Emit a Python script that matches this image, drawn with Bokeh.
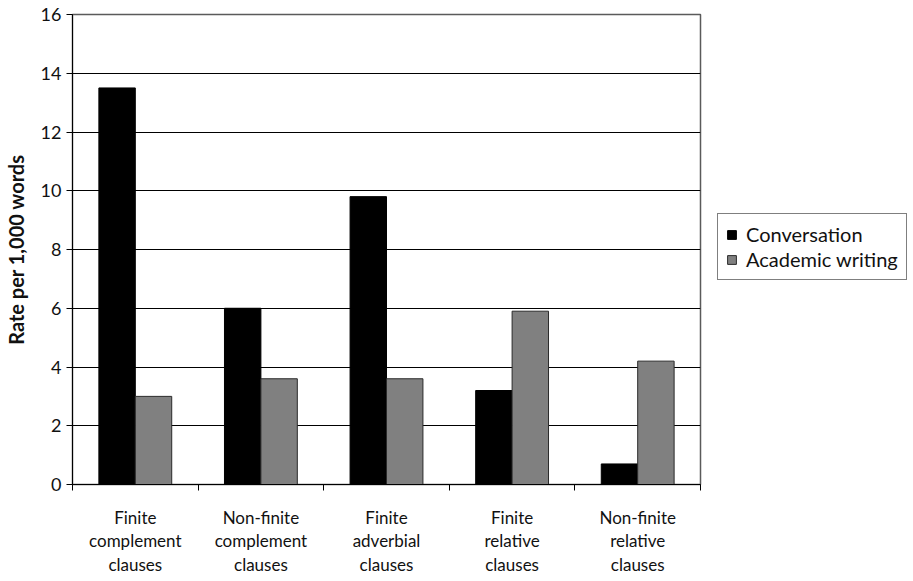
from bokeh.plotting import figure
from bokeh.models import (ColumnDataSource, FixedTicker, Legend, LegendItem,
                          Range1d)
from bokeh.transform import dodge
from bokeh.embed import file_html
from bokeh.resources import INLINE

# Clause types and their rates per 1,000 words in two registers
categories = [
    "Finite\ncomplement\nclauses",
    "Non-finite\ncomplement\nclauses",
    "Finite\nadverbial\nclauses",
    "Finite\nrelative\nclauses",
    "Non-finite\nrelative\nclauses",
]
conversation = [13.5, 6.0, 9.8, 3.2, 0.7]
academic_writing = [3.0, 3.6, 3.6, 5.9, 4.2]
y_ticks = [0, 2, 4, 6, 8, 10, 12, 14, 16]

FONT = "Lato"

centers = [i + 0.5 for i in range(len(categories))]
source = ColumnDataSource(dict(x=centers, conv=conversation, acad=academic_writing))

p = figure(
    frame_width=628, frame_height=470,
    x_range=Range1d(0, len(categories)), y_range=Range1d(0, 16),
    output_backend="svg", toolbar_location=None,
    min_border_left=72, min_border_right=0, min_border_top=14, min_border_bottom=97,
)
p.background_fill_color = "white"
p.border_fill_color = "white"
p.outline_line_color = "#5a5a5a"
p.outline_line_width = 1.5

bar_w = 0.29
r_conv = p.vbar(x=dodge("x", -bar_w / 2), top="conv", width=bar_w, source=source,
                fill_color="black", line_color="black", line_width=1)
r_acad = p.vbar(x=dodge("x", bar_w / 2), top="acad", width=bar_w, source=source,
                fill_color="#808080", line_color="#2a2a2a", line_width=1)

# x axis: labels at group centres, tick marks at group boundaries
p.xaxis.ticker = FixedTicker(ticks=centers, minor_ticks=list(range(len(categories) + 1)))
p.xaxis.major_label_overrides = {c: lab for c, lab in zip(centers, categories)}
p.xaxis.major_tick_out = 0
p.xaxis.major_tick_in = 0
p.xaxis.minor_tick_out = 6
p.xaxis.minor_tick_in = 0
p.xaxis.minor_tick_line_color = "black"
p.xaxis.axis_line_color = "black"
p.xaxis.major_label_text_font = FONT
p.xaxis.major_label_text_font_size = "17px"
p.xaxis.major_label_text_color = "#111111"
p.xaxis.major_label_text_line_height = 1.12
p.xaxis.major_label_standoff = 16

# y axis
p.yaxis.ticker = FixedTicker(ticks=y_ticks, minor_ticks=[])
p.yaxis.major_tick_out = 6
p.yaxis.major_tick_in = 0
p.yaxis.major_tick_line_color = "black"
p.yaxis.axis_line_color = "black"
p.yaxis.major_label_text_font = FONT
p.yaxis.major_label_text_font_size = "18px"
p.yaxis.major_label_text_color = "#111111"
p.yaxis.major_label_standoff = 5
p.yaxis.axis_label = "Rate per 1,000 words"
p.yaxis.axis_label_text_font = FONT
p.yaxis.axis_label_text_font_size = "20px"
p.yaxis.axis_label_text_font_style = "bold"
p.yaxis.axis_label_text_color = "#111111"
p.yaxis.axis_label_standoff = 10

p.xgrid.grid_line_color = None
p.ygrid.grid_line_color = "black"
p.ygrid.grid_line_width = 1
p.ygrid.ticker = FixedTicker(ticks=y_ticks)

legend = Legend(
    items=[LegendItem(label="Conversation", renderers=[r_conv]),
           LegendItem(label="Academic writing", renderers=[r_acad])],
    location=(17, 204),
    border_line_color="black", border_line_width=1,
    background_fill_color="white", background_fill_alpha=1,
    label_text_font=FONT, label_text_font_size="20px", label_text_color="#111111",
    glyph_width=11, glyph_height=11, label_standoff=9,
    padding=8, spacing=1, margin=0, label_height=20,
)
p.add_layout(legend, "right")

open("out.html", "w").write(file_html(p, INLINE))
